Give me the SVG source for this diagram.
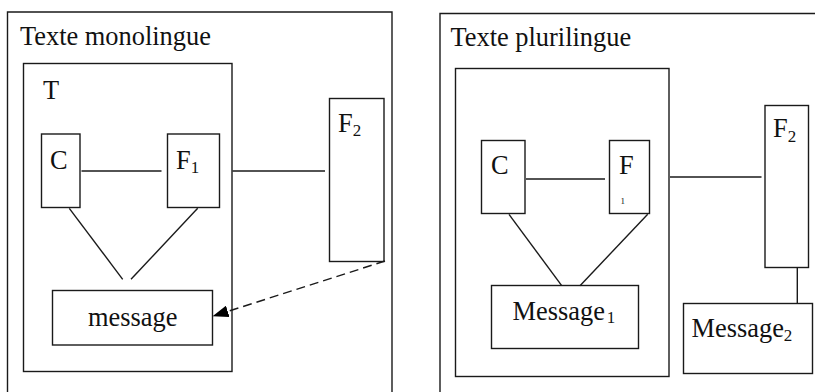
<svg xmlns="http://www.w3.org/2000/svg" width="815" height="392" viewBox="0 0 815 392" font-family="'Liberation Serif', 'Times New Roman', 'DejaVu Serif', serif">
<defs>
<style>
.b{fill:#fff;stroke:#1a1a1a;stroke-width:1.4}
.l{stroke:#1a1a1a;stroke-width:1.4;fill:none}
text{font-family:'Liberation Serif','Times New Roman','DejaVu Serif',serif;font-size:26.4px;fill:#111}
.s{font-size:17px}
</style>
<marker id="ah" markerWidth="16" markerHeight="12" refX="15" refY="6" orient="auto" markerUnits="userSpaceOnUse">
<path d="M0,0 L16,6 L0,12 Z" fill="#000"/>
</marker>
</defs>
<g id="panel-mono">
<path class="l" d="M7.5,392 V12 H392 V392"/>
<text x="20" y="45">Texte monolingue</text>
</g>
<g id="T-box">
<rect class="b" x="23.5" y="63.5" width="208.5" height="308"/>
<text x="43" y="99">T</text>
</g>
<g id="C-left">
<rect class="b" x="41.5" y="134" width="38.5" height="73.5"/>
<text x="50" y="169">C</text>
</g>
<g id="F1-left">
<rect class="b" x="167.5" y="134" width="52" height="73.5"/>
<text x="176" y="169">F<tspan class="s" dy="4">1</tspan></text>
</g>
<g id="F2-left">
<rect class="b" x="329.5" y="98.5" width="54.5" height="163"/>
<text x="338" y="132">F<tspan class="s" dy="4">2</tspan></text>
</g>
<g id="message-left">
<rect class="b" x="52.5" y="290.5" width="160" height="54.5"/>
<text x="88" y="326">message</text>
</g>
<g id="panel-pluri">
<path class="l" d="M440,392 V13.5 H815"/>
<text x="450.5" y="45.5">Texte plurilingue</text>
</g>
<g id="inner-box">
<rect class="b" x="455.5" y="68.5" width="213.5" height="308"/>
</g>
<g id="C-right">
<rect class="b" x="481.5" y="140.5" width="43.5" height="73"/>
<text x="491" y="174">C</text>
</g>
<g id="F1-right">
<rect class="b" x="609.5" y="140.5" width="40" height="73"/>
<text x="619" y="174">F</text>
<text x="620.5" y="204" style="font-size:9px">1</text>
</g>
<g id="F2-right">
<rect class="b" x="765" y="105.5" width="43.5" height="162"/>
<text x="773" y="137">F<tspan class="s" dy="5">2</tspan></text>
</g>
<g id="message1">
<rect class="b" x="491.5" y="285.5" width="147" height="63"/>
<text x="512.5" y="320">Message<tspan class="s" dx="2" dy="3">1</tspan></text>
</g>
<g id="message2">
<rect class="b" x="683.5" y="303.5" width="129" height="70"/>
<text x="691.5" y="337">Message<tspan class="s" dy="4">2</tspan></text>
</g>
<g id="connectors">
<line class="l" x1="81.5" y1="171" x2="161.5" y2="171"/>
<line class="l" x1="232.5" y1="171" x2="325" y2="171"/>
<line class="l" x1="69.3" y1="208.3" x2="122.7" y2="279.3"/>
<line class="l" x1="197.7" y1="208.3" x2="131" y2="279.3"/>
<line class="l" x1="385" y1="261" x2="213.5" y2="316" stroke-dasharray="9,5" stroke-width="1.9" marker-end="url(#ah)"/>
<line class="l" x1="526" y1="179" x2="605" y2="179"/>
<line class="l" x1="670" y1="177" x2="761.5" y2="177"/>
<line class="l" x1="509" y1="214.3" x2="561.7" y2="285.7"/>
<line class="l" x1="647.7" y1="214.3" x2="580" y2="285.7"/>
<line class="l" x1="797.3" y1="267.7" x2="797.3" y2="303.5"/>
</g>
</svg>
